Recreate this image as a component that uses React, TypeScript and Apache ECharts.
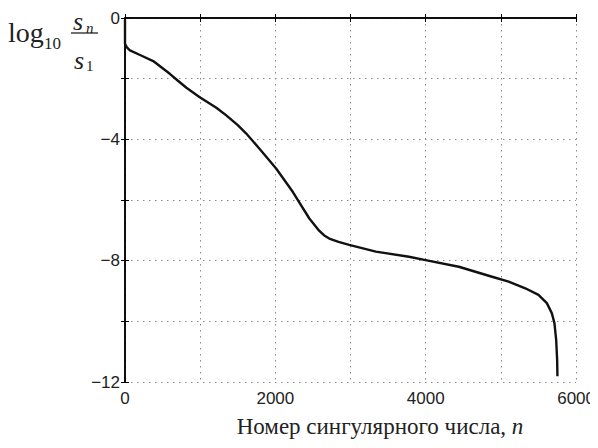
import React, { useEffect, useRef } from "react";
import * as echarts from "echarts";

const xValues = [0, 0, 20, 66, 200, 375, 596, 700, 817, 994, 1215, 1347, 1500, 1613, 1789, 2010, 2231, 2452, 2585, 2650, 2717, 2840, 2982, 3336, 3777, 3998, 4440, 4882, 5103, 5324, 5500, 5611, 5677, 5712, 5735, 5748, 5752];
const yValues = [-0.05, -0.85, -0.95, -1.07, -1.22, -1.42, -1.84, -2.06, -2.3, -2.61, -2.96, -3.21, -3.53, -3.81, -4.31, -4.96, -5.73, -6.61, -7.02, -7.17, -7.27, -7.38, -7.48, -7.7, -7.87, -7.98, -8.2, -8.53, -8.69, -8.91, -9.13, -9.4, -9.73, -10.06, -10.61, -11.27, -11.81];
const xTickLabels = [0, 2000, 4000, 6000];
const yTickLabels = [0, -4, -8, -12];
const xAxisTitle = "Номер сингулярного числа, ";
const xAxisVar = "n";

const serif = '"Liberation Serif", "Times New Roman", serif';
const sans = '"Liberation Sans", Arial, sans-serif';

export default function App() {
  const ref = useRef<HTMLDivElement>(null);
  useEffect(() => {
    if (!ref.current) return;
    const chart = echarts.init(ref.current, undefined, { renderer: "svg" });
    const data = xValues.map((x, i) => [x, yValues[i]]);
    const splitLine = { show: true, lineStyle: { color: "#888", width: 1, type: [1.5, 4.5] as any } };
    const axisLine = { show: true, lineStyle: { color: "#000", width: 1.5 } };
    const tick = { show: true, inside: true, length: 4, lineStyle: { color: "#000" } };
    chart.setOption({
      animation: false,
      backgroundColor: "#fff",
      grid: { left: 125, right: 20, top: 18, bottom: 66, containLabel: false },
      xAxis: [
        {
          type: "value",
          min: 0,
          max: 6000,
          interval: 1000,
          axisLine,
          axisTick: tick,
          splitLine,
          axisLabel: {
            color: "#222",
            fontFamily: sans,
            fontSize: 17,
            margin: 8,
            formatter: (v: number) => (xTickLabels.includes(v) ? String(v) : ""),
          },
        },
        {
          type: "value",
          position: "top",
          min: 0,
          max: 6000,
          interval: 1000,
          axisLine,
          axisTick: tick,
          splitLine: { show: false },
          axisLabel: { show: false },
        },
      ],
      yAxis: [
        {
          type: "value",
          min: -12,
          max: 0,
          interval: 2,
          axisLine,
          axisTick: tick,
          splitLine,
          axisLabel: {
            color: "#222",
            fontFamily: sans,
            fontSize: 17,
            margin: 5,
            formatter: (v: number) => (yTickLabels.includes(v) ? String(v).replace("-", "\u2212") : ""),
          },
        },
        {
          type: "value",
          position: "right",
          min: -12,
          max: 0,
          interval: 2,
          axisLine,
          axisTick: tick,
          splitLine: { show: false },
          axisLabel: { show: false },
        },
      ],
      series: [
        {
          type: "line",
          data,
          showSymbol: false,
          smooth: false,
          lineStyle: { color: "#111", width: 2.4, join: "round" },
          xAxisIndex: 0,
          yAxisIndex: 0,
        },
      ],
      graphic: [
        { type: "text", x: 8, y: 18, style: { text: "log", font: `28px ${serif}`, fill: "#222" } },
        { type: "text", x: 44, y: 35, style: { text: "10", font: `17px ${serif}`, fill: "#222" } },
        { type: "text", x: 73, y: 8, style: { text: "s", font: `italic 26px ${serif}`, fill: "#222" } },
        { type: "text", x: 86, y: 20, style: { text: "n", font: `italic 15px ${serif}`, fill: "#222" } },
        { type: "line", shape: { x1: 71, y1: 33, x2: 98, y2: 33 }, style: { stroke: "#222", lineWidth: 1.3 } },
        { type: "text", x: 74, y: 47, style: { text: "s", font: `italic 26px ${serif}`, fill: "#222" } },
        { type: "text", x: 86, y: 58, style: { text: "1", font: `15px ${serif}`, fill: "#222" } },
        {
          type: "text",
          x: 380,
          y: 415,
          style: {
            text: xAxisTitle + "{i|" + xAxisVar + "}",
            font: `23px ${serif}`,
            fill: "#222",
            align: "center",
            rich: { i: { fontFamily: serif, fontSize: 23, fontStyle: "italic", fill: "#222" } },
          },
        },
      ],
    });
    return () => chart.dispose();
  }, []);
  return <div ref={ref} style={{ width: 598, height: 448, margin: -8 }} />;
}
